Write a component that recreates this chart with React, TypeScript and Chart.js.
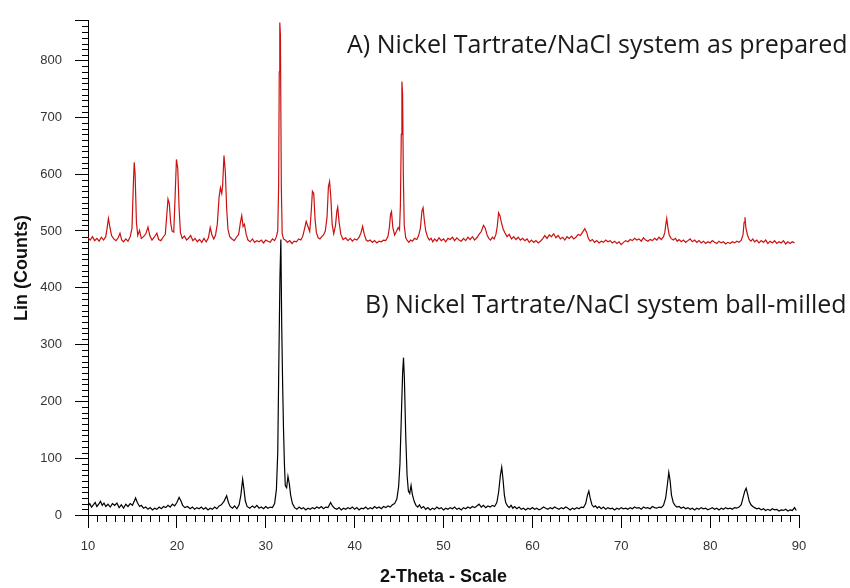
import React, { useEffect, useRef } from "react";
import { Chart, registerables } from "chart.js";

Chart.register(...registerables);

// X-axis range and tick labels (2-Theta)
const xMin = 10;
const xMax = 90;
const yMin = 0;
const yMax = 870;

const labelA = "A) Nickel Tartrate/NaCl system as prepared";
const labelB = "B) Nickel Tartrate/NaCl system ball-milled";
const xTitle = "2-Theta - Scale";
const yTitle = "Lin (Counts)";

// Series A: as prepared (red) — [2-theta, counts]
const seriesA: [number, number][] = [
  [10.0, 488], [10.25, 484], [10.5, 490], [10.75, 483], [11.0, 487], [11.25, 482], [11.5, 489], [11.75, 484],
  [12.0, 490], [12.15, 505], [12.3, 522], [12.45, 508], [12.65, 492], [12.9, 486], [13.15, 483], [13.4, 488],
  [13.6, 496], [13.8, 484], [14.0, 481], [14.25, 486], [14.5, 482], [14.75, 490], [14.95, 505], [15.1, 580],
  [15.2, 621], [15.3, 600], [15.45, 515], [15.6, 492], [15.8, 501], [16.0, 487], [16.25, 490], [16.5, 495],
  [16.75, 507], [16.95, 492], [17.2, 484], [17.45, 489], [17.75, 496], [17.95, 485], [18.2, 483], [18.45, 489],
  [18.7, 494], [18.85, 525], [19.0, 556], [19.15, 548], [19.3, 515], [19.45, 500], [19.65, 498], [19.8, 560],
  [19.95, 626], [20.1, 610], [20.25, 540], [20.4, 497], [20.6, 487], [20.85, 491], [21.1, 484], [21.35, 488],
  [21.55, 492], [21.8, 483], [22.05, 487], [22.3, 481], [22.55, 485], [22.8, 480], [23.05, 487], [23.3, 481],
  [23.55, 488], [23.75, 506], [23.95, 493], [24.15, 486], [24.35, 493], [24.55, 512], [24.75, 560], [24.9, 576],
  [25.05, 566], [25.15, 580], [25.3, 633], [25.45, 605], [25.6, 540], [25.75, 503], [25.95, 490], [26.2, 486],
  [26.45, 483], [26.7, 489], [26.95, 494], [27.15, 515], [27.3, 527], [27.45, 508], [27.6, 512], [27.8, 494],
  [28.0, 484], [28.25, 481], [28.5, 486], [28.75, 480], [29.0, 483], [29.25, 481], [29.5, 484], [29.75, 479],
  [30.0, 484], [30.25, 482], [30.5, 480], [30.75, 486], [31.0, 483], [31.2, 490], [31.35, 500], [31.45, 580],
  [31.52, 780], [31.58, 867], [31.65, 845], [31.75, 580], [31.85, 495], [32.0, 486], [32.2, 484], [32.45, 480],
  [32.7, 483], [32.95, 478], [33.2, 482], [33.45, 481], [33.7, 486], [33.95, 484], [34.15, 490], [34.35, 503],
  [34.55, 517], [34.75, 508], [34.95, 499], [35.1, 530], [35.25, 570], [35.4, 566], [35.55, 520], [35.7, 497],
  [35.9, 488], [36.1, 486], [36.3, 490], [36.5, 493], [36.7, 500], [36.9, 525], [37.05, 578], [37.18, 587],
  [37.32, 560], [37.47, 512], [37.65, 495], [37.85, 510], [38.0, 535], [38.1, 542], [38.25, 516], [38.45, 494],
  [38.7, 485], [39.0, 488], [39.25, 483], [39.5, 487], [39.75, 482], [40.0, 486], [40.25, 484], [40.5, 489],
  [40.7, 496], [40.9, 508], [41.1, 493], [41.3, 484], [41.5, 482], [41.75, 484], [42.0, 480], [42.25, 483],
  [42.5, 479], [42.75, 482], [43.0, 481], [43.25, 484], [43.5, 483], [43.75, 490], [43.9, 505], [44.05, 530],
  [44.15, 534], [44.3, 506], [44.5, 493], [44.7, 499], [44.9, 506], [45.05, 502], [45.15, 545], [45.25, 670],
  [45.32, 763], [45.4, 740], [45.48, 600], [45.58, 510], [45.75, 488], [45.9, 484], [46.1, 480], [46.3, 484],
  [46.5, 482], [46.75, 487], [47.0, 485], [47.2, 492], [47.4, 505], [47.58, 536], [47.7, 541], [47.85, 518],
  [48.0, 500], [48.2, 490], [48.4, 484], [48.6, 487], [48.8, 481], [49.0, 486], [49.25, 482], [49.5, 488],
  [49.75, 483], [50.0, 486], [50.25, 481], [50.5, 487], [50.75, 485], [51.0, 489], [51.25, 483], [51.5, 488],
  [51.75, 484], [52.0, 482], [52.25, 487], [52.5, 483], [52.75, 489], [53.0, 485], [53.25, 490], [53.5, 484],
  [53.75, 488], [54.0, 494], [54.25, 499], [54.5, 510], [54.7, 505], [54.9, 493], [55.1, 487], [55.3, 484],
  [55.5, 489], [55.7, 486], [55.9, 494], [56.05, 508], [56.2, 532], [56.35, 527], [56.5, 516], [56.7, 504],
  [56.9, 497], [57.15, 490], [57.4, 494], [57.65, 486], [57.9, 490], [58.15, 485], [58.4, 489], [58.65, 484],
  [58.9, 487], [59.15, 483], [59.4, 486], [59.65, 480], [59.9, 484], [60.15, 480], [60.4, 483], [60.65, 479],
  [60.9, 482], [61.15, 486], [61.4, 492], [61.65, 487], [61.9, 493], [62.15, 490], [62.4, 495], [62.65, 488],
  [62.9, 492], [63.15, 486], [63.4, 489], [63.65, 484], [63.9, 490], [64.15, 487], [64.4, 491], [64.65, 486],
  [64.9, 489], [65.15, 494], [65.4, 492], [65.65, 498], [65.9, 504], [66.1, 498], [66.3, 487], [66.5, 482],
  [66.75, 485], [67.0, 480], [67.25, 483], [67.5, 479], [67.75, 482], [68.0, 480], [68.25, 484], [68.5, 481],
  [68.75, 483], [69.0, 479], [69.25, 482], [69.5, 478], [69.75, 481], [70.0, 476], [70.25, 480], [70.5, 483],
  [70.75, 481], [71.0, 485], [71.25, 483], [71.5, 487], [71.75, 484], [72.0, 486], [72.25, 482], [72.5, 488],
  [72.75, 484], [73.0, 482], [73.25, 485], [73.5, 483], [73.75, 487], [74.0, 484], [74.25, 489], [74.5, 485],
  [74.75, 490], [74.9, 497], [75.0, 510], [75.12, 522], [75.25, 506], [75.4, 493], [75.6, 487], [75.85, 484],
  [76.1, 487], [76.3, 482], [76.5, 485], [76.75, 481], [77.0, 484], [77.25, 480], [77.5, 483], [77.75, 486],
  [78.0, 481], [78.25, 484], [78.5, 480], [78.75, 483], [79.0, 479], [79.25, 482], [79.5, 478], [79.75, 481],
  [80.0, 479], [80.25, 483], [80.5, 480], [80.75, 478], [81.0, 482], [81.25, 479], [81.5, 481], [81.75, 477],
  [82.0, 480], [82.25, 478], [82.5, 481], [82.75, 479], [83.0, 482], [83.25, 480], [83.5, 484], [83.7, 493],
  [83.82, 515], [83.92, 524], [84.02, 506], [84.2, 493], [84.4, 485], [84.6, 482], [84.8, 486], [85.0, 481],
  [85.25, 484], [85.5, 479], [85.75, 483], [86.0, 480], [86.25, 484], [86.5, 478], [86.75, 482], [87.0, 479],
  [87.25, 483], [87.5, 478], [87.75, 481], [88.0, 479], [88.25, 483], [88.5, 477], [88.75, 481], [89.0, 478],
  [89.25, 481], [89.5, 479],
];

// Series B: ball-milled (black) — [2-theta, counts]
const seriesB: [number, number][] = [
  [10.0, 16], [10.2, 20], [10.4, 14], [10.6, 18], [10.8, 22], [11.0, 15], [11.2, 19], [11.4, 24],
  [11.6, 17], [11.8, 21], [12.0, 15], [12.25, 19], [12.5, 14], [12.75, 20], [13.0, 17], [13.25, 21],
  [13.5, 13], [13.75, 18], [14.0, 12], [14.25, 19], [14.5, 15], [14.75, 20], [15.0, 17], [15.2, 24],
  [15.35, 30], [15.55, 22], [15.8, 15], [16.0, 17], [16.25, 12], [16.5, 14], [16.75, 10], [17.0, 13],
  [17.25, 9], [17.5, 12], [17.75, 10], [18.0, 14], [18.25, 11], [18.5, 15], [18.75, 13], [19.0, 17],
  [19.25, 14], [19.5, 19], [19.75, 16], [20.0, 22], [20.25, 31], [20.45, 25], [20.65, 17], [20.9, 13],
  [21.2, 15], [21.5, 11], [21.75, 14], [22.0, 10], [22.25, 13], [22.5, 11], [22.75, 14], [23.0, 10],
  [23.25, 13], [23.5, 9], [23.75, 12], [24.0, 10], [24.25, 14], [24.5, 11], [24.75, 16], [25.0, 18],
  [25.3, 24], [25.6, 34], [25.8, 22], [26.0, 15], [26.25, 12], [26.5, 16], [26.75, 11], [27.0, 18],
  [27.2, 35], [27.4, 63], [27.55, 45], [27.7, 25], [27.9, 15], [28.2, 12], [28.5, 16], [28.75, 13],
  [29.0, 17], [29.25, 12], [29.5, 14], [29.75, 11], [30.0, 15], [30.25, 12], [30.5, 14], [30.75, 13],
  [31.0, 20], [31.2, 45], [31.35, 110], [31.45, 240], [31.6, 420], [31.7, 485], [31.8, 330], [31.9, 230],
  [32.0, 150], [32.1, 90], [32.2, 52], [32.35, 48], [32.5, 68], [32.65, 55], [32.8, 35], [33.0, 20], [33.25, 13],
  [33.5, 10], [33.75, 14], [34.0, 11], [34.25, 13], [34.5, 9], [34.75, 12], [35.0, 10], [35.25, 13],
  [35.5, 11], [35.75, 14], [36.0, 12], [36.25, 15], [36.5, 11], [36.75, 14], [37.0, 13], [37.3, 22],
  [37.5, 16], [37.75, 12], [38.0, 10], [38.25, 13], [38.5, 9], [38.75, 12], [39.0, 10], [39.25, 13],
  [39.5, 11], [39.75, 14], [40.0, 10], [40.25, 13], [40.5, 9], [40.75, 12], [41.0, 11], [41.25, 14],
  [41.5, 10], [41.75, 13], [42.0, 11], [42.25, 15], [42.5, 12], [42.75, 14], [43.0, 11], [43.25, 15],
  [43.5, 13], [43.75, 16], [44.0, 14], [44.25, 18], [44.5, 20], [44.75, 28], [44.95, 50], [45.1, 90],
  [45.25, 170], [45.4, 250], [45.5, 277], [45.6, 240], [45.75, 140], [45.9, 70], [46.05, 42], [46.2, 38],
  [46.35, 52], [46.5, 36], [46.7, 24], [46.9, 17], [47.1, 14], [47.3, 18], [47.5, 12], [47.75, 15],
  [48.0, 10], [48.25, 13], [48.5, 9], [48.75, 12], [49.0, 10], [49.25, 14], [49.5, 11], [49.75, 13],
  [50.0, 9], [50.25, 12], [50.5, 10], [50.75, 13], [51.0, 11], [51.25, 14], [51.5, 10], [51.75, 12],
  [52.0, 9], [52.25, 13], [52.5, 11], [52.75, 14], [53.0, 12], [53.25, 15], [53.5, 13], [53.75, 16],
  [54.0, 19], [54.25, 14], [54.5, 17], [54.75, 13], [55.0, 16], [55.25, 14], [55.5, 17], [55.75, 15],
  [56.0, 22], [56.2, 40], [56.4, 70], [56.55, 84], [56.7, 62], [56.85, 35], [57.0, 22], [57.2, 16],
  [57.4, 13], [57.6, 17], [57.8, 12], [58.0, 15], [58.25, 11], [58.5, 14], [58.75, 10], [59.0, 12],
  [59.25, 9], [59.5, 12], [59.75, 10], [60.0, 13], [60.25, 10], [60.5, 12], [60.75, 9], [61.0, 11],
  [61.25, 14], [61.5, 12], [61.75, 10], [62.0, 13], [62.25, 11], [62.5, 14], [62.75, 12], [63.0, 10],
  [63.25, 13], [63.5, 11], [63.75, 14], [64.0, 12], [64.25, 9], [64.5, 12], [64.75, 10], [65.0, 13],
  [65.25, 11], [65.5, 14], [65.75, 13], [66.0, 20], [66.2, 35], [66.35, 42], [66.5, 30], [66.7, 18],
  [66.9, 14], [67.1, 16], [67.3, 12], [67.5, 15], [67.75, 11], [68.0, 14], [68.25, 10], [68.5, 13],
  [68.75, 11], [69.0, 12], [69.25, 9], [69.5, 12], [69.75, 10], [70.0, 13], [70.25, 11], [70.5, 12],
  [70.75, 10], [71.0, 13], [71.25, 11], [71.5, 14], [71.75, 12], [72.0, 13], [72.25, 10], [72.5, 14],
  [72.75, 12], [73.0, 13], [73.25, 11], [73.5, 15], [73.75, 13], [74.0, 12], [74.25, 14], [74.5, 13],
  [74.75, 17], [75.0, 30], [75.2, 55], [75.35, 75], [75.5, 60], [75.65, 35], [75.85, 22], [76.05, 17],
  [76.25, 14], [76.5, 15], [76.75, 12], [77.0, 14], [77.25, 11], [77.5, 13], [77.75, 10], [78.0, 12],
  [78.25, 9], [78.5, 12], [78.75, 10], [79.0, 13], [79.25, 11], [79.5, 12], [79.75, 9], [80.0, 11],
  [80.25, 13], [80.5, 10], [80.75, 12], [81.0, 9], [81.25, 12], [81.5, 10], [81.75, 13], [82.0, 11],
  [82.25, 12], [82.5, 10], [82.75, 13], [83.0, 12], [83.25, 14], [83.5, 18], [83.7, 30], [83.9, 42],
  [84.05, 47], [84.2, 38], [84.4, 24], [84.6, 18], [84.8, 15], [85.0, 13], [85.25, 11], [85.5, 12],
  [85.75, 9], [86.0, 11], [86.25, 8], [86.5, 10], [86.75, 8], [87.0, 11], [87.25, 9], [87.5, 10],
  [87.75, 7], [88.0, 9], [88.25, 8], [88.5, 10], [88.75, 7], [89.0, 9], [89.25, 8], [89.5, 13],
  [89.7, 8],
];

const minorTicksPlugin = {
  id: "minorTicks",
  afterDraw(chart: any) {
    const { ctx } = chart;
    const xs = chart.scales.x;
    const ys = chart.scales.y;
    const y0 = ys.getPixelForValue(0);
    const xLeft = xs.getPixelForValue(xMin);
    ctx.save();
    ctx.strokeStyle = "#000";
    ctx.lineWidth = 1;
    ctx.beginPath();
    for (let v = xMin + 1; v < xMax; v++) {
      if (v % 10 === 0) continue;
      const px = Math.round(xs.getPixelForValue(v)) + 0.5;
      ctx.moveTo(px, y0);
      ctx.lineTo(px, y0 + 7);
    }
    for (let v = 10; v < yMax; v += 10) {
      if (v % 100 === 0) continue;
      const py = Math.round(ys.getPixelForValue(v)) + 0.5;
      ctx.moveTo(xLeft - 6, py);
      ctx.lineTo(xLeft, py);
    }
    ctx.stroke();

    // Series annotations
    ctx.fillStyle = "#1a1a1a";
    ctx.font = "25px 'Open Sans'";
    ctx.textBaseline = "alphabetic";
    ctx.textAlign = "left";
    ctx.fillText(labelA, 347, 53);
    ctx.fillText(labelB, 365, 313);
    ctx.restore();
  },
};

export default function App() {
  const ref = useRef<HTMLCanvasElement | null>(null);

  useEffect(() => {
    if (!ref.current) return;
    const chart = new Chart(ref.current, {
      type: "line",
      data: {
        datasets: [
          {
            label: "A",
            data: seriesA.map(([x, y]) => ({ x, y })),
            borderColor: "#cc1010",
            borderWidth: 1.2,
            pointRadius: 0,
            tension: 0,
            fill: false,
          },
          {
            label: "B",
            data: seriesB.map(([x, y]) => ({ x, y })),
            borderColor: "#000000",
            borderWidth: 1.2,
            pointRadius: 0,
            tension: 0,
            fill: false,
          },
        ],
      },
      options: {
        animation: false,
        responsive: false,
        layout: { padding: { top: 20, right: 51, left: 0, bottom: 0 } },
        plugins: {
          legend: { display: false },
          tooltip: { enabled: false },
        },
        scales: {
          x: {
            type: "linear",
            min: xMin,
            max: xMax,
            afterFit: (s: any) => {
              s.height = 73;
            },
            ticks: {
              stepSize: 10,
              autoSkip: false,
              maxRotation: 0,
              padding: 11,
              color: "#333",
              font: { family: "'Liberation Sans', Arial", size: 13 },
            },
            grid: {
              drawOnChartArea: false,
              drawTicks: true,
              tickLength: 13,
              tickColor: "#000",
              tickWidth: 1,
            },
            border: { color: "#000", width: 1 },
            title: {
              display: true,
              text: xTitle,
              color: "#111",
              font: { family: "'Liberation Sans', Arial", size: 18, weight: "bold" },
              padding: { top: 0, bottom: 0 },
            },
          },
          y: {
            type: "linear",
            min: yMin,
            max: yMax,
            afterFit: (s: any) => {
              s.width = 88;
            },
            ticks: {
              stepSize: 100,
              autoSkip: false,
              padding: 13,
              color: "#333",
              font: { family: "'Liberation Sans', Arial", size: 13 },
              callback: (v: any) => (Number(v) % 100 === 0 ? String(v) : ""),
            },
            grid: {
              drawOnChartArea: false,
              drawTicks: true,
              tickLength: 13,
              tickColor: "#000",
              tickWidth: 1,
            },
            border: { color: "#000", width: 1 },
            title: {
              display: true,
              text: yTitle,
              color: "#111",
              font: { family: "'Liberation Sans', Arial", size: 18, weight: "bold" },
              padding: { top: 11, bottom: 0 },
            },
          },
        },
      },
      plugins: [minorTicksPlugin],
    });
    return () => chart.destroy();
  }, []);

  return (
    <div style={{ position: "absolute", left: 0, top: 0, width: 850, height: 588, background: "#fff" }}>
      <canvas ref={ref} width={850} height={588} />
    </div>
  );
}
